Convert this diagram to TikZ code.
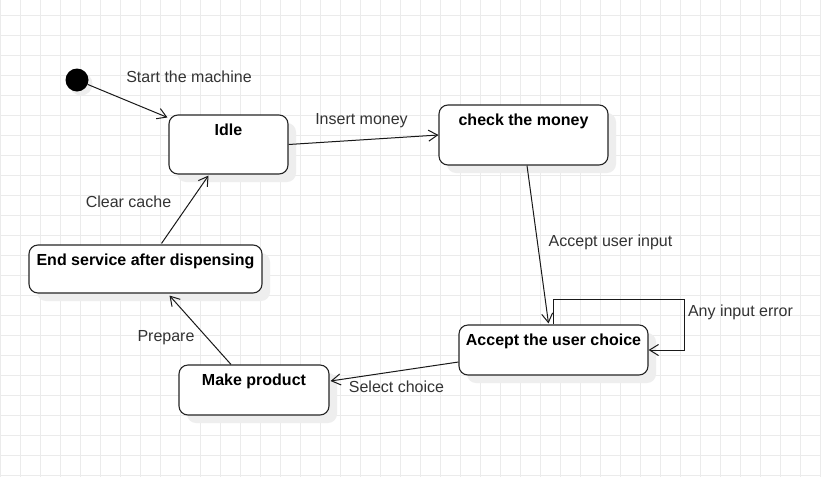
\documentclass[tikz,border=0pt]{standalone}
\usepackage{fontspec}
\setmainfont{Liberation Sans}
\usetikzlibrary{arrows.meta,calc,shadows}
\definecolor{gridc}{HTML}{EBEBEB}
\definecolor{shadowc}{HTML}{EEEEEE}
\definecolor{labelc}{HTML}{333333}
\begin{document}
\begin{tikzpicture}[x=1pt,y=-1pt,
  state/.style={draw=black!85, line width=1.1pt, rounded corners=9pt, fill=white, inner sep=0pt,
    drop shadow={shadow xshift=8pt, shadow yshift=-8pt, fill=shadowc, opacity=1}},
  boxtext/.style={anchor=base, yshift=-21pt, font=\fontsize{16}{19}\selectfont\bfseries, text=black, inner sep=0pt},
  edgelabel/.style={font=\fontsize{16}{19}\selectfont, text=labelc, inner sep=0pt},
  arr/.style={draw=black!90, line width=1pt, -{Straight Barb[length=9pt,width=11pt]}}]
\useasboundingbox (0,0) rectangle (821,477);
\fill[white] (0,0) rectangle (821,477);
\foreach \x in {0,20,...,820} \draw[gridc, line width=1pt] (\x,0) -- (\x,477);
\foreach \y in {15,35,...,475} \draw[gridc, line width=1pt] (0,\y) -- (821,\y);

% initial state
\fill[shadowc] (81,84) circle (11.5);
\node[circle, fill=black, minimum size=23pt, inner sep=0pt] (init) at (77,80) {};

% states
\node[state, minimum width=119, minimum height=59, label={[boxtext]north:Idle}] (idle) at (228.5,144.5) {};
\node[state, minimum width=169, minimum height=60, label={[boxtext]north:check the money}] (check) at (523.5,135) {};
\node[state, minimum width=189, minimum height=50, label={[boxtext]north:Accept the user choice}] (accept) at (553.5,350) {};
\node[state, minimum width=233, minimum height=48, label={[boxtext]north:End service after dispensing}] (endsvc) at (145.5,269) {};
\node[state, minimum width=150, minimum height=50, label={[boxtext]north:Make product}] (make) at (254,390) {};

% connectors
\draw[arr] (init) -- ($(idle.north west)+(-1,3)$);
\draw[arr] (idle.east) -- (check.west);
\draw[arr] ($(check.south)+(3.5,0)$) -- ($(accept.north)+(-5,-1)$);
\draw[arr] (accept.north) -- ++(0,-25) -| ($(accept.east)+(36,0)$) -- (accept.east);
\draw[arr] ($(accept.west)+(0,12)$) -- ($(make.east)+(1,-9)$);
\draw[arr] ($(make.north)+(-23,0)$) -- ($(endsvc.south)+(24,2)$);
\draw[arr] ($(endsvc.north)+(16,-1)$) -- ($(idle.south)+(-20,1)$);

% labels
\node[edgelabel] (l1) at (189,77) {Start the machine};
\node[edgelabel] (l2) at (361.5,121) {Insert money};
\node[edgelabel] (l3) at (610.5,242) {Accept user input};
\node[edgelabel] (l4) at (740.5,312) {Any input error};
\node[edgelabel] (l5) at (396.5,387) {Select choice};
\node[edgelabel] (l6) at (166,338) {Prepare};
\node[edgelabel] (l7) at (128.5,202) {Clear cache};
\end{tikzpicture}
\end{document}
